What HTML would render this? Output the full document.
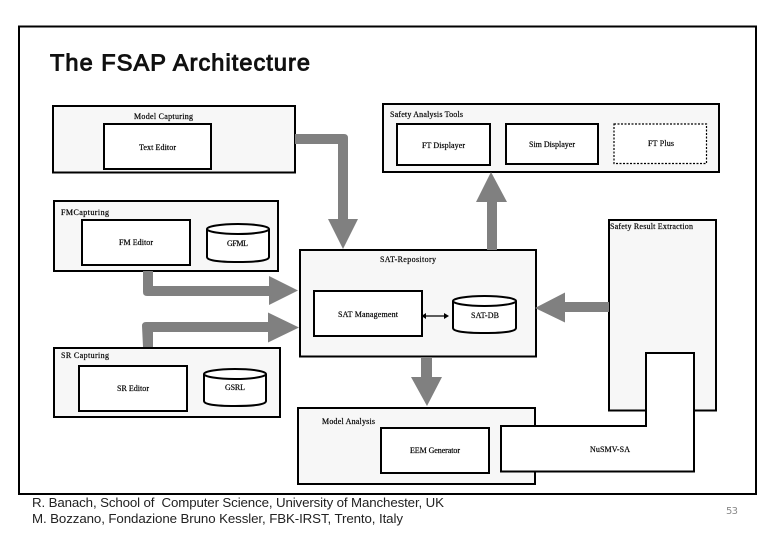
<!DOCTYPE html>
<html>
<head>
<meta charset="utf-8">
<style>
html,body{margin:0;padding:0;background:#fff;width:780px;height:540px;overflow:hidden}
svg{display:block}
.b{fill:#f7f7f7;stroke:#000;stroke-width:2}
.w{fill:#fff;stroke:#000;stroke-width:2}
.a{fill:#808080;stroke:none}
.t{font-family:"Liberation Serif",serif;font-size:8px;fill:#000;stroke:#000;stroke-width:.2}
.f{font-family:"Liberation Sans",sans-serif;font-size:13.300px;fill:#222}
</style>
</head>
<body>
<svg width="780" height="540" viewBox="0 0 780 540" xmlns="http://www.w3.org/2000/svg">
<rect x="0" y="0" width="780" height="540" fill="#fff"/>
<rect x="19" y="26.500" width="737" height="467.500" fill="#fff" stroke="#000" stroke-width="2"/>
<text x="50" y="70.500" textLength="260" style="font-family:'Liberation Sans',sans-serif;font-size:23.500px;fill:#111;stroke:#111;stroke-width:1">The FSAP Architecture</text>

<rect class="b" x="53" y="106" width="242" height="66.500"/>
<rect class="w" x="104" y="124" width="107" height="45"/>
<rect class="b" x="383" y="104" width="336" height="68"/>
<rect class="w" x="397" y="124" width="93" height="41"/>
<rect class="w" x="506" y="124" width="92" height="40"/>
<rect x="614" y="124" width="92.500" height="39.500" fill="#fff" stroke="#000" stroke-width="1.200" stroke-dasharray="2 1.500"/>
<rect class="b" x="54" y="201" width="224" height="70"/>
<rect class="w" x="82" y="220" width="108" height="45"/>
<rect class="b" x="300" y="250" width="236" height="106.500"/>
<rect class="w" x="314" y="291" width="108" height="45"/>
<rect class="b" x="609" y="220" width="107" height="190.500"/>
<rect class="b" x="54" y="348" width="226" height="69"/>
<rect class="w" x="79" y="366" width="108" height="45"/>
<rect class="b" x="298" y="408" width="237" height="76"/>
<rect class="w" x="381" y="428" width="108" height="45"/>
<path class="w" d="M646 353H694V471.500H501V426H646Z"/>

<g class="w">
<path d="M207 229V257Q207 262 238 262Q269 262 269 257V229"/>
<ellipse cx="238" cy="229" rx="31" ry="5"/>
<path d="M204 374V401Q204 406 235 406Q266 406 266 401V374"/>
<ellipse cx="235" cy="374" rx="31" ry="5"/>
<path d="M453 301V328Q453 333 484.500 333Q516 333 516 328V301"/>
<ellipse cx="484.500" cy="301" rx="31.500" ry="5"/>
</g>

<path class="a" d="M295 134H344Q348 134 348 138V219H358L343 249L328 219H338V144H295Z"/>
<path class="a" d="M143 271H153V286H269V276L298 290.500L269 305V296H147Q143 296 143 292Z"/>
<path class="a" d="M143 347H153V332H268V342.500L299 327.500L268 312.500V322H146Q142 322 142 326Z"/>
<path class="a" d="M487 250V202H476L491 172L507 202H497V250Z"/>
<path class="a" d="M609 302H565V292.500L535 308L565 322.500V312H609Z"/>
<path class="a" d="M421 357H432V377H442L427 406L411 377H421Z"/>

<path d="M424 316H446" stroke="#000" stroke-width="1.200"/>
<path d="M449 316L444 313V319Z" fill="#000"/>
<path d="M421.500 316L426 313V319Z" fill="#000"/>

<g class="t">
<text x="134" y="119" textLength="59">Model Capturing</text>
<text x="139" y="150" textLength="37">Text Editor</text>
<text x="61" y="215" textLength="48">FMCapturing</text>
<text x="119" y="245" textLength="34">FM Editor</text>
<text x="227" y="246" textLength="21">GFML</text>
<text x="390" y="117" textLength="73">Safety Analysis Tools</text>
<text x="422" y="148" textLength="43">FT Displayer</text>
<text x="529" y="147" textLength="46">Sim Displayer</text>
<text x="648" y="146" textLength="26">FT Plus</text>
<text x="610" y="229" textLength="83">Safety Result Extraction</text>
<text x="380" y="262" textLength="56">SAT-Repository</text>
<text x="338" y="317" textLength="60">SAT Management</text>
<text x="471" y="318" textLength="28">SAT-DB</text>
<text x="61" y="358" textLength="48">SR Capturing</text>
<text x="117" y="391" textLength="32">SR Editor</text>
<text x="225" y="390" textLength="20">GSRL</text>
<text x="322" y="424" textLength="53">Model Analysis</text>
<text x="410" y="453" textLength="50">EEM Generator</text>
<text x="590" y="452" textLength="40">NuSMV-SA</text>
</g>

<text class="f" x="32" y="507" textLength="412" xml:space="preserve">R. Banach, School of  Computer Science, University of Manchester, UK</text>
<text class="f" x="32" y="523" textLength="371">M. Bozzano, Fondazione Bruno Kessler, FBK-IRST, Trento, Italy</text>
<text x="726" y="514" textLength="12" style="font-family:'DejaVu Sans',sans-serif;font-size:10px;fill:#8a8a8a">53</text>
</svg>
</body>
</html>
